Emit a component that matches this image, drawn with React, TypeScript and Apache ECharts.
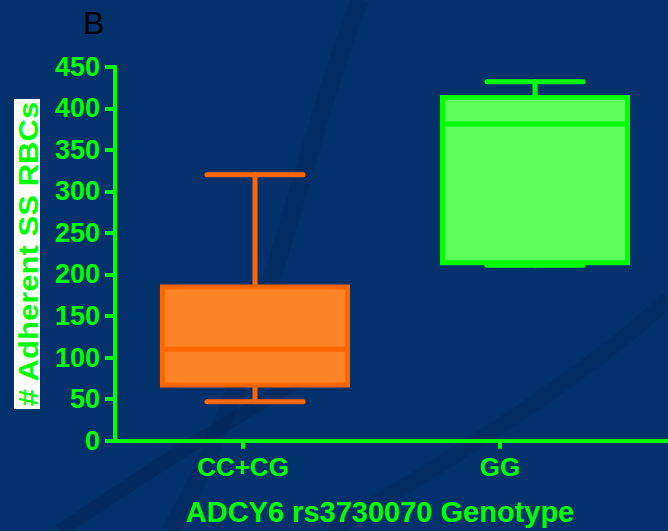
import React, { useEffect, useRef } from "react";
import * as echarts from "echarts";

const categories = ["CC+CG", "GG"];
const categoryPositions = [0, 1];
// [low whisker, Q1, median, Q3, high whisker]
const ccCgValues = [47, 67, 110, 185, 320];
const ggValues = [211, 214, 381, 413, 432];
const boxStroke = ["#FF6600", "#00FF00"];
const boxFill = ["#FF8426", "#5CFF5C"];
const yMin = 0;
const yMax = 450;
const yStep = 50;
const yTitle = "# Adherent SS RBCs";
const xTitle = "ADCY6 rs3730070 Genotype";
const panelLetter = "B";

const GREEN = "#00FF00";
const FONT = "'Liberation Sans', Arial, Helvetica, sans-serif";

export default function App() {
  const ref = useRef<HTMLDivElement>(null);
  useEffect(() => {
    if (!ref.current) return;
    const chart = echarts.init(ref.current, null, { renderer: "svg" });
    const boxData = [ccCgValues, ggValues].map((v, i) => [categoryPositions[i], ...v]);
    chart.setOption({
      animation: false,
      backgroundColor: "#03316B",
      grid: [
        { left: 115, top: 66.7, width: 553, height: 374 },
        { left: 114.5, top: 66.7, width: 553.5, height: 374 },
      ],
      xAxis: [
        {
          type: "value",
          gridIndex: 0,
          min: -0.5,
          max: -0.5 + 553 / 280,
          show: false,
        },
        {
          type: "value",
          gridIndex: 1,
          min: -0.5,
          max: -0.5 + 553.5 / 257,
          axisLine: { show: true, onZero: false, lineStyle: { color: GREEN, width: 4 } },
          axisTick: {
            show: true,
            customValues: categoryPositions,
            length: 8,
            lineStyle: { color: GREEN, width: 4 },
          },
          axisLabel: {
            customValues: categoryPositions,
            formatter: (v: number) => categories[Math.round(v)] ?? "",
            color: GREEN,
            fontFamily: FONT,
            fontWeight: "bold",
            fontSize: 26,
            margin: 13,
          },
          splitLine: { show: false },
        },
      ],
      yAxis: [
        {
          type: "value",
          gridIndex: 0,
          min: yMin,
          max: yMax,
          interval: yStep,
          axisLine: { show: true, onZero: false, lineStyle: { color: GREEN, width: 4 } },
          axisTick: { show: true, length: 10, lineStyle: { color: GREEN, width: 4 } },
          axisLabel: {
            color: GREEN,
            fontFamily: FONT,
            fontWeight: "bold",
            fontSize: 27,
            margin: 15,
          },
          splitLine: { show: false },
        },
        { type: "value", gridIndex: 1, min: yMin, max: yMax, show: false },
      ],
      graphic: [
        {
          type: "bezierCurve",
          silent: true,
          z: -10,
          shape: { x1: 60, y1: 531, x2: 300, y2: 380, cpx1: 150, cpy1: 470, cpx2: 230, cpy2: 420 },
          style: { stroke: "rgba(0,25,70,0.22)", lineWidth: 14, fill: null },
        },
        {
          type: "bezierCurve",
          silent: true,
          z: -10,
          shape: { x1: 170, y1: 531, x2: 360, y2: 0, cpx1: 260, cpy1: 380, cpx2: 300, cpy2: 150 },
          style: { stroke: "rgba(0,25,70,0.18)", lineWidth: 18, fill: null },
        },
        {
          type: "bezierCurve",
          silent: true,
          z: -10,
          shape: { x1: 330, y1: 531, x2: 668, y2: 300, cpx1: 450, cpy1: 460, cpx2: 580, cpy2: 380 },
          style: { stroke: "rgba(0,25,70,0.18)", lineWidth: 16, fill: null },
        },
        {
          type: "text",
          left: 83,
          top: 7,
          style: { text: panelLetter, font: `normal 32px ${FONT}`, fill: "#000000" },
        },
        {
          type: "rect",
          shape: { x: 14, y: 99, width: 26, height: 310 },
          style: { fill: "#FFFFFF" },
        },
        {
          type: "text",
          x: 28,
          y: 254,
          rotation: Math.PI / 2,
          scaleX: 1.11,
          style: {
            text: yTitle,
            font: `bold 28px ${FONT}`,
            fill: GREEN,
            align: "center",
            verticalAlign: "middle",
          },
        },
        {
          type: "text",
          x: 380,
          y: 512,
          style: {
            text: xTitle,
            font: `bold 29px ${FONT}`,
            fill: GREEN,
            align: "center",
            verticalAlign: "middle",
          },
        },
      ],
      series: [
        {
          type: "custom",
          xAxisIndex: 0,
          yAxisIndex: 0,
          data: boxData,
          encode: { x: 0, y: [1, 2, 3, 4, 5] },
          renderItem: (params: any, api: any) => {
            const idx = api.value(0);
            const low = api.coord([idx, api.value(1)]);
            const q1 = api.coord([idx, api.value(2)]);
            const med = api.coord([idx, api.value(3)]);
            const q3 = api.coord([idx, api.value(4)]);
            const high = api.coord([idx, api.value(5)]);
            const band = api.size([1, 0])[0];
            const cx = low[0];
            const bw = band * 0.661;
            const cw = band * 0.343;
            const stroke = boxStroke[params.dataIndex];
            const fill = boxFill[params.dataIndex];
            const ls = { stroke, lineWidth: 5, lineCap: "round" };
            return {
              type: "group",
              children: [
                { type: "line", shape: { x1: cx, y1: q3[1], x2: cx, y2: high[1] }, style: ls },
                { type: "line", shape: { x1: cx, y1: q1[1], x2: cx, y2: low[1] }, style: ls },
                { type: "line", shape: { x1: cx - cw / 2, y1: high[1], x2: cx + cw / 2, y2: high[1] }, style: ls },
                { type: "line", shape: { x1: cx - cw / 2, y1: low[1], x2: cx + cw / 2, y2: low[1] }, style: ls },
                {
                  type: "rect",
                  shape: { x: cx - bw / 2, y: q3[1], width: bw, height: q1[1] - q3[1] },
                  style: { fill, stroke, lineWidth: 5 },
                },
                {
                  type: "line",
                  shape: { x1: cx - bw / 2, y1: med[1], x2: cx + bw / 2, y2: med[1] },
                  style: { stroke, lineWidth: 5 },
                },
              ],
            };
          },
        },
      ],
    });
    return () => chart.dispose();
  }, []);
  return (
    <div
      ref={ref}
      style={{ position: "absolute", left: 0, top: 0, width: 668, height: 531 }}
    />
  );
}
